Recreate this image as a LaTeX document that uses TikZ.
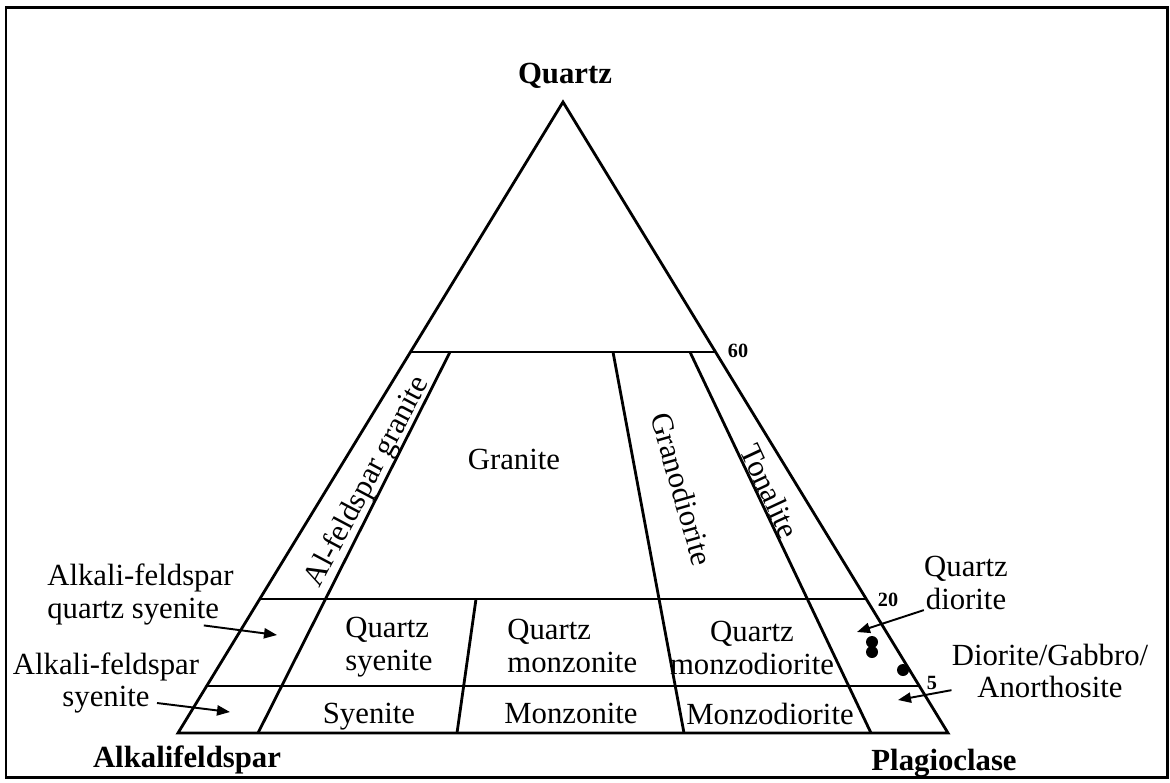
\documentclass[tikz,border=0pt]{standalone}
\usepackage{fontspec}
\setmainfont{Liberation Serif}
\usetikzlibrary{arrows.meta,positioning,calc}
\definecolor{qapfInk}{HTML}{000000}
\tikzset{
  frm/.style={draw=qapfInk, line width=1.5pt},
  bnd/.style={draw=qapfInk, line width=1.6pt},
  lbl/.style={inner sep=0pt, font=\fontsize{17.5}{18.7}\selectfont, align=center},
  lblL/.style={lbl, align=left},
  lblB/.style={inner sep=0pt, font=\fontsize{17.5}{18.7}\selectfont\bfseries},
  num/.style={inner sep=0pt, font=\fontsize{11.5}{12}\selectfont\bfseries},
  arr/.style={-{Triangle[length=7.4pt, width=5.8pt]}, line width=1.1pt, draw=qapfInk},
}
\begin{document}
\begin{tikzpicture}[x=0.02cm, y=-0.02cm]
  \useasboundingbox (0,0) rectangle (1170,782);
  \draw[frm] (6,7.5) rectangle (1167.5,777.5);
  \coordinate (A) at (178,733);
  \coordinate (Q) at (563,102);
  \coordinate (P) at (948,733);
  \draw[bnd] (A) -- (Q) -- (P) -- cycle;
  \draw[bnd] (410.5,352) -- (715.5,352);
  \draw[bnd] (259.8,599) -- (866.2,599);
  \draw[bnd] (206.7,686) -- (919.3,686);
  \draw[bnd] (450,352) -- (258,733);
  \draw[bnd] (613,352) -- (684,733);
  \draw[bnd] (690,352) -- (871,733);
  \draw[bnd] (476,599) -- (457,733);

  \node[lblB, anchor=base] (qz) at (565,83) {Quartz};
  \node[lblB, anchor=base] (af) at (187,767) {Alkalifeldspar};
  \node[lblB, anchor=base] (pl) at (944,770) {Plagioclase};
  \node[num] (n60) at (738,351) {60};
  \node[num] (n20) at (888,600) {20};
  \node[num] (n5) at (932,683) {5};

  \node[lbl, anchor=base] (gr) at (514,469) {Granite};
  \node[lbl, rotate=62] (afg) at (368,482) {Al-feldspar granite};
  \node[lbl, rotate=-74] (gd) at (682,489) {Granodiorite};
  \node[lbl, rotate=-65] (to) at (770,491) {Tonalite};
  \node[lblL, anchor=west] (qs) at (345,647) {Quartz\\syenite};
  \node[lblL, anchor=west] (qm) at (507,646) {Quartz\\monzonite};
  \node[lbl] (qmd) at (752,648) {Quartz\\monzodiorite};
  \node[lbl, anchor=base] (sy) at (369,723) {Syenite};
  \node[lbl, anchor=base] (mz) at (571,723) {Monzonite};
  \node[lbl, anchor=base] (mzd) at (770,724) {Monzodiorite};
  \node[lblL, anchor=west] (afqs) at (47,594.5) {Alkali-feldspar\\quartz syenite};
  \node[lbl] (afs) at (106,683) {Alkali-feldspar\\syenite};
  \node[lbl] (qd) at (966,583) {Quartz\\diorite};
  \node[lbl] (dg) at (1050,671) {Diorite/Gabbro/\\Anorthosite};

  \coordinate (afqsT) at (277,635);
  \coordinate (afsS) at (157,703);
  \coordinate (afsT) at (230,712);
  \coordinate (qdT) at (857,632);
  \coordinate (dgT) at (898,700);
  \draw[arr] (afqs.-26) -- (afqsT);
  \draw[arr] (afsS) -- (afsT);
  \draw[arr] (qd.south west) -- (qdT);
  \draw[arr] (dg.191) -- (dgT);

  \fill[qapfInk] (872,642) circle (6);
  \fill[qapfInk] (872,652) circle (6);
  \fill[qapfInk] (903,670) circle (6);
\end{tikzpicture}
\end{document}
